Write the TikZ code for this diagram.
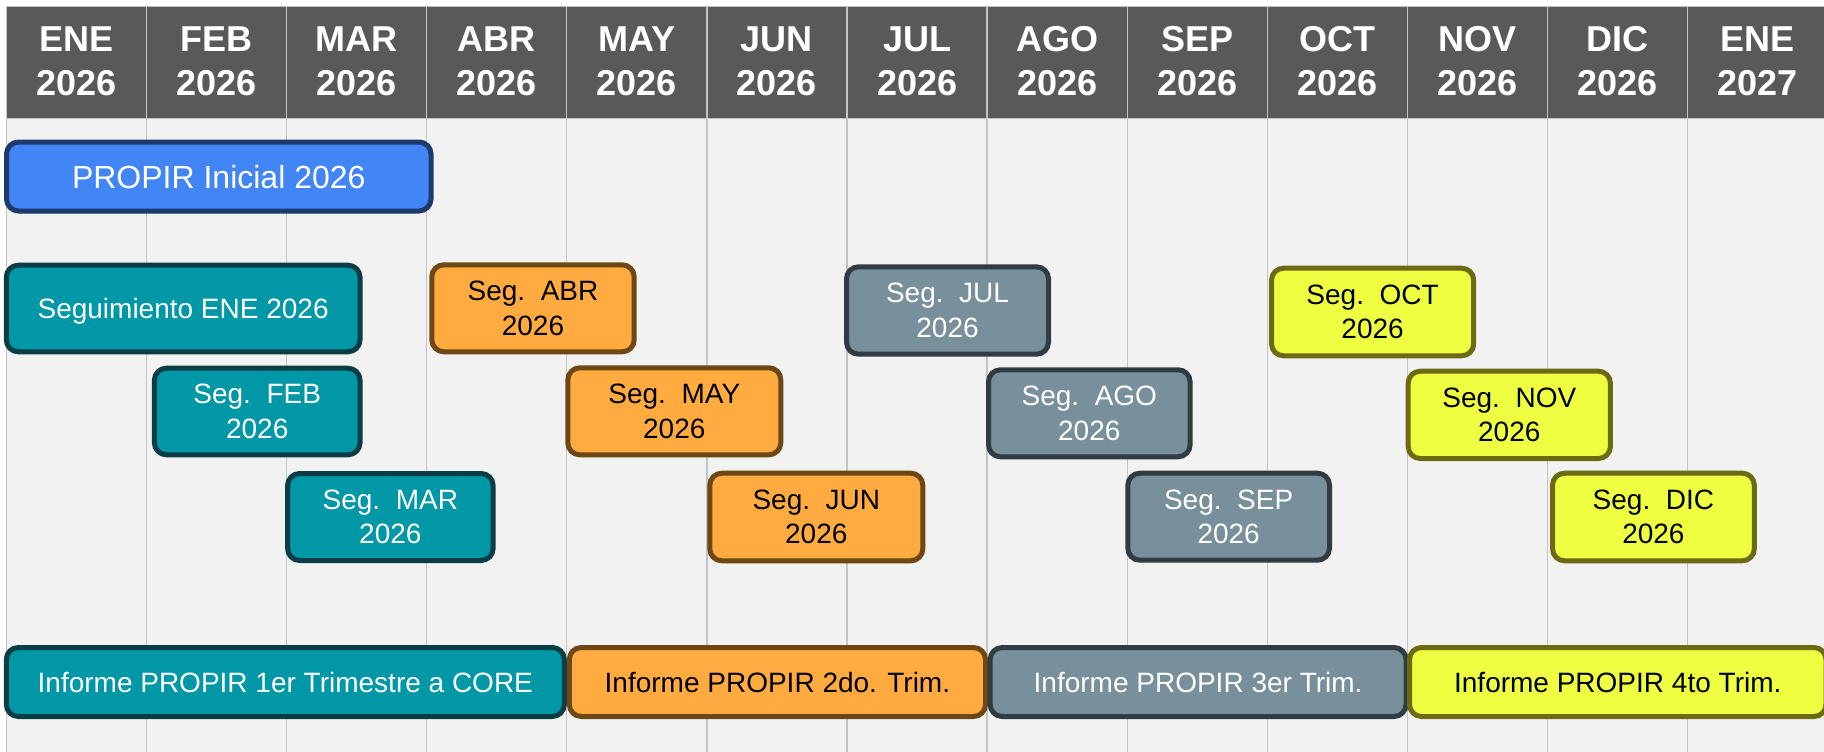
\documentclass[tikz,border=0pt]{standalone}
\usepackage{fontspec}
\setmainfont{Liberation Sans}
\definecolor{headbg}{HTML}{595959}
\definecolor{bodybg}{HTML}{F2F2F2}
\definecolor{gridc}{HTML}{C4C4C4}
\definecolor{blueF}{HTML}{4285F4}
\definecolor{blueD}{HTML}{1C3A6B}
\definecolor{tealF}{HTML}{0097A7}
\definecolor{tealD}{HTML}{0A3D44}
\definecolor{oranF}{HTML}{FFAB40}
\definecolor{oranD}{HTML}{6D4714}
\definecolor{grayF}{HTML}{78909C}
\definecolor{grayD}{HTML}{303C42}
\definecolor{yelF}{HTML}{EEFF41}
\definecolor{yelD}{HTML}{6B6B14}
\begin{document}
\begin{tikzpicture}[x=1pt,y=-1pt,
  gridline/.style={draw=gridc, line width=1.3pt},
  headlbl/.style={text=white, align=center, inner sep=0pt,
    font=\fontsize{36}{44.7}\selectfont\bfseries},
  box/.style={rounded corners=12pt, line width=5pt, inner sep=0pt,
    align=center, font=\fontsize{28}{34.3}\selectfont},
  one/.style={text height=20pt, text depth=0pt},
  bbox/.style={box, fill=blueF, draw=blueD, text=white},
  tbox/.style={box, fill=tealF, draw=tealD, text=white},
  obox/.style={box, fill=oranF, draw=oranD, text=black},
  gbox/.style={box, fill=grayF, draw=grayD, text=white},
  ybox/.style={box, fill=yelF, draw=yelD, text=black},
  sz/.style 2 args={minimum width=#1pt, minimum height=#2pt}]
\useasboundingbox (0,0) rectangle (1824,752);
\clip (0,0) rectangle (1824,752);
\fill[white] (0,0) rectangle (1824,752);
\fill[bodybg] (6.4,118.3) rectangle (1830,752);
\fill[headbg] (6.4,6.7) rectangle (1830,118.3);
\foreach \i in {0,...,12}
  \draw[gridline] ({6.4+140.1*\i},6.7) -- ({6.4+140.1*\i},752);
\draw[gridline] (6.4,6.7) -- (1830,6.7);
\draw[gridline] (6.4,118.3) -- (1830,118.3);
\foreach \m/\yr [count=\i from 0] in {ENE/2026,FEB/2026,MAR/2026,ABR/2026,MAY/2026,JUN/2026,JUL/2026,AGO/2026,SEP/2026,OCT/2026,NOV/2026,DIC/2026,ENE/2027}
  \node[headlbl] (h\i) at ({6.4+140.1*(\i+0.5)},61.2) {\m\\\yr};

% initial
\node[bbox, sz={424.5}{69}, font=\fontsize{32}{38}\selectfont, text height=23pt, text depth=0pt]
  (ini) at (218.75,176.5) {PROPIR Inicial 2026};

% monthly follow-ups
\node[tbox, one, sz={353.7}{86.6}] (ene) at (183.15,308.5) {Seguimiento ENE 2026};
\node[tbox, sz={205.6}{86.6}] (feb) at (257.2,411.5) {Seg.\ \ FEB\\2026};
\node[tbox, sz={205.5}{87}] (mar) at (390.35,517) {Seg.\ \ MAR\\2026};
\node[obox, sz={202.4}{87}] (abr) at (533,308.3) {Seg.\ \ ABR\\2026};
\node[obox, sz={213}{87}] (may) at (674.3,411.3) {Seg.\ \ MAY\\2026};
\node[obox, sz={213}{87.6}] (jun) at (816.3,517) {Seg.\ \ JUN\\2026};
\node[gbox, sz={202}{87.4}] (jul) at (947.5,310.5) {Seg.\ \ JUL\\2026};
\node[gbox, sz={201.6}{87}] (ago) at (1089.3,413.3) {Seg.\ \ AGO\\2026};
\node[gbox, sz={201.7}{87}] (sep) at (1228.65,516.7) {Seg.\ \ SEP\\2026};
\node[ybox, sz={202.2}{87.6}] (oct) at (1372.6,312) {Seg.\ \ OCT\\2026};
\node[ybox, sz={202.2}{87.3}] (nov) at (1509.3,414.85) {Seg.\ \ NOV\\2026};
\node[ybox, sz={201.8}{87.6}] (dic) at (1653.4,517) {Seg.\ \ DIC\\2026};

% quarterly reports
\node[tbox, one, sz={558}{69}] (inf1) at (285.3,682) {Informe PROPIR 1er Trimestre a CORE};
\node[obox, one, sz={416.2}{69}] (inf2) at (777.4,682) {Informe PROPIR 2do. Trim.};
\node[gbox, one, sz={415.8}{69}] (inf3) at (1198.1,682) {Informe PROPIR 3er Trim.};
\node[ybox, one, sz={416.5}{69}] (inf4) at (1617.75,682) {Informe PROPIR 4to Trim.};
\end{tikzpicture}
\end{document}
